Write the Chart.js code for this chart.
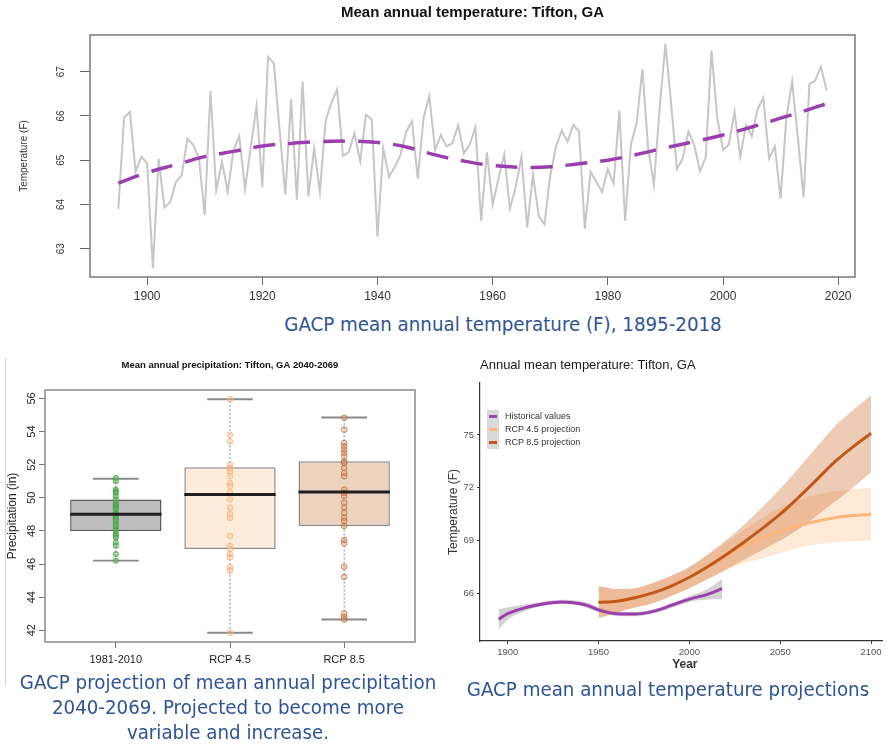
<!DOCTYPE html>
<html>
<head>
<meta charset="utf-8">
<script src="https://cdn.jsdelivr.net/npm/chart.js@4.4.1/dist/chart.umd.min.js"></script>
<style>
  body { margin: 0; background: #fff; width: 896px; height: 746px; overflow: hidden; position: relative; font-family: "Liberation Sans", Arial, sans-serif; }
  .panel { position: absolute; }
  #topPanel { left: 0; top: 0; width: 896px; height: 310px; }
  #boxPanel { left: 0; top: 350px; width: 450px; height: 320px; }
  #projPanel { left: 444px; top: 350px; width: 439px; height: 325px; overflow: hidden; }
  #edge { position: absolute; left: 5px; top: 358px; width: 0; height: 328px; border-left: 1px solid #d6d6d6; }
  .caption { position: absolute; color: #2f5496; font-family: "Liberation Sans Narrow", "DejaVu Sans Condensed", Arial, sans-serif; font-size: 20.3px; line-height: 25px; text-align: center; white-space: nowrap; }
  #cap1 { left: 253px; top: 312px; width: 500px; }
  #cap2 { left: 0; top: 670px; width: 456px; }
  #cap3 { left: 440px; top: 677px; width: 456px; }
  #projLegend { position: absolute; left: 487px; top: 410px; width: 160px; height: 39px; }
  #projLegend .keybg { position: absolute; left: 0; top: 0; width: 12px; height: 39px; background: #d9d9d9; }
  #projLegend .row { position: absolute; left: 0; height: 13px; line-height: 13px; font-size: 9px; color: #333; padding-left: 18px; white-space: nowrap; }
  #projLegend .key { position: absolute; left: 2px; top: 5px; width: 8px; height: 3px; }
</style>
</head>
<body>
<div class="panel" id="topPanel"><canvas id="tempChart" width="896" height="310"></canvas></div>
<div id="edge"></div>
<div class="panel" id="boxPanel"><canvas id="precipChart" width="450" height="320"></canvas></div>
<div class="panel" id="projPanel"><canvas id="projChart" width="454" height="325"></canvas></div>
<div id="projLegend"><div class="keybg"></div></div>
<div class="caption" id="cap1">GACP mean annual temperature (F), 1895-2018</div>
<div class="caption" id="cap2">GACP projection of mean annual precipitation<br>2040-2069. Projected to become more<br>variable and increase.</div>
<div class="caption" id="cap3">GACP mean annual temperature projections</div>

<script>
// ---- Nhiệt độ trung bình năm 1895-2018 ----
const firstYear = 1895;
const annualTemp = [
  63.90, 65.96, 66.09, 64.74, 65.08, 64.93, 62.56, 65.03, 63.93, 64.05,
  64.51, 64.66, 65.48, 65.35, 65.04, 63.76, 66.57, 64.32, 64.96, 64.29,
  65.23, 65.54, 64.35, 65.30, 66.22, 64.39, 67.34, 67.19, 65.70, 64.22,
  66.38, 64.11, 66.78, 64.18, 65.27, 64.29, 65.90, 66.30, 66.60, 65.10,
  65.18, 65.61, 64.98, 66.03, 65.92, 63.27, 65.27, 64.62, 64.85, 65.12,
  65.65, 65.88, 64.58, 65.96, 66.45, 65.23, 65.57, 65.31, 65.38, 65.79,
  65.16, 65.35, 65.74, 63.63, 65.18, 63.99, 64.58, 65.13, 63.91, 64.39,
  65.08, 63.48, 64.67, 63.74, 63.55, 64.66, 65.31, 65.67, 65.42, 65.80,
  65.65, 63.45, 64.74, 64.51, 64.28, 64.80, 64.47, 66.12, 63.63, 65.35,
  65.84, 67.06, 65.27, 64.45, 66.18, 67.63, 66.26, 64.80, 65.04, 65.65,
  65.35, 64.75, 65.06, 67.48, 65.96, 65.23, 65.35, 66.09, 65.08, 65.80,
  65.54, 66.15, 66.41, 65.04, 65.31, 64.13, 65.96, 66.78, 65.50, 64.16,
  66.72, 66.80, 67.12, 66.57
];
const annualYears = annualTemp.map((_, i) => firstYear + i);

// Đường xu hướng (nét đứt tím)
const trendYears = [1895, 1900, 1905, 1910, 1915, 1920, 1925, 1930, 1935, 1940, 1945, 1950, 1955,
  1960, 1965, 1970, 1975, 1980, 1985, 1990, 1995, 2000, 2005, 2010, 2015, 2018];
const trendTemp = [64.48, 64.72, 64.90, 65.08, 65.20, 65.32, 65.38, 65.42, 65.43, 65.40, 65.30, 65.12, 64.98,
  64.88, 64.84, 64.85, 64.92, 65.00, 65.13, 65.28, 65.42, 65.57, 65.75, 65.95, 66.15, 66.28];

const tempTicks = [63, 64, 65, 66, 67];
const yearTicks = [1900, 1920, 1940, 1960, 1980, 2000, 2020];

// ---- Lượng mưa 2040-2069 (boxplot) ----
const boxLabels = ["1981-2010", "RCP 4.5", "RCP 8.5"];
const boxLow = [46.2, 41.85, 42.65];
const boxQ1 = [48.0, 46.9, 48.3];
const boxMedian = [49.0, 50.2, 50.35];
const boxQ3 = [49.9, 51.85, 52.2];
const boxHigh = [51.15, 55.95, 54.85];
const histPrecip = [51.2, 51.0, 50.5, 50.4, 50.3, 50.1, 49.9, 49.7, 49.6, 49.5, 49.4, 49.3, 49.1, 49.0, 49.0,
  48.9, 48.8, 48.7, 48.6, 48.4, 48.3, 48.1, 48.0, 47.8, 47.7, 47.6, 47.3, 47.1, 46.6, 46.2];
const rcp45Precip = [55.95, 53.8, 53.4, 52.0, 51.8, 51.6, 51.3, 50.9, 50.7, 50.3, 49.9, 49.4, 49.0, 48.8,
  47.7, 47.1, 46.9, 46.6, 46.4, 45.8, 45.6, 41.85];
const rcp85Precip = [54.83, 54.12, 53.31, 53.11, 52.91, 52.71, 52.5, 52.2, 52.1, 51.8, 51.5, 51.3, 50.5, 50.3,
  50.1, 49.7, 49.4, 49.1, 48.8, 48.6, 48.3, 47.45, 47.25, 45.84, 45.23, 43.0, 42.8, 42.65];
const precipTicks = [42, 44, 46, 48, 50, 52, 54, 56];

// ---- Dự báo nhiệt độ (phải) ----
const histYears = [1895, 1900, 1910, 1920, 1930, 1940, 1945, 1950, 1960, 1970, 1980, 1990, 2000, 2010, 2018];
const histFit = [64.53, 64.85, 65.20, 65.42, 65.52, 65.42, 65.28, 65.07, 64.85, 64.83, 64.98, 65.32, 65.68, 65.95, 66.27];
const histLow = [63.95, 64.50, 65.02, 65.30, 65.40, 65.30, 65.12, 64.92, 64.72, 64.70, 64.85, 65.18, 65.52, 65.65, 65.70];
const histHigh = [65.10, 65.20, 65.38, 65.55, 65.64, 65.56, 65.45, 65.22, 64.98, 64.96, 65.10, 65.46, 65.84, 66.25, 66.80];

const projYears = [1950, 1960, 1970, 1980, 1990, 2000, 2010, 2020, 2030, 2040, 2050, 2060, 2070, 2080, 2090, 2100];
const rcp85Fit = [65.50, 65.56, 65.76, 66.03, 66.42, 66.92, 67.52, 68.19, 68.91, 69.68, 70.50, 71.45, 72.45, 73.47, 74.32, 75.10];
const rcp85Low = [64.60, 64.90, 65.20, 65.45, 65.85, 66.30, 66.80, 67.35, 67.90, 68.45, 69.00, 69.65, 70.40, 71.20, 72.00, 72.88];
const rcp85High = [66.42, 66.25, 66.30, 66.60, 67.00, 67.50, 68.20, 69.00, 69.90, 70.90, 71.95, 73.10, 74.30, 75.50, 76.40, 77.26];
const rcp45Fit = [65.50, 65.56, 65.76, 66.03, 66.42, 66.92, 67.50, 68.10, 68.70, 69.15, 69.55, 69.85, 70.10, 70.30, 70.42, 70.50];
const rcp45Low = [64.60, 64.90, 65.20, 65.45, 65.85, 66.30, 66.80, 67.30, 67.70, 68.00, 68.30, 68.60, 68.80, 68.90, 68.95, 69.00];
const rcp45High = [66.42, 66.25, 66.30, 66.60, 67.00, 67.50, 68.20, 68.90, 69.60, 70.30, 70.85, 71.30, 71.60, 71.80, 71.92, 72.00];

const projTempTicks = [66, 69, 72, 75];
const projYearTicks = [1900, 1950, 2000, 2050, 2100];
const legendNames = ["Historical values", "RCP 4.5 projection", "RCP 8.5 projection"];
const legendColors = ["#9c3fae", "#fdb67a", "#c2571a"];

// ghép x,y
const pts = (xs, ys) => xs.map((x, i) => ({ x: x, y: ys[i] }));

// Khung viền vùng vẽ (kiểu R)
const framePlugin = {
  id: "frame",
  afterDatasetsDraw(chart, args, opts) {
    const { ctx, chartArea: a } = chart;
    ctx.save();
    ctx.strokeStyle = opts.color || "#777";
    ctx.lineWidth = opts.width || 1.5;
    ctx.strokeRect(a.left, a.top, a.right - a.left, a.bottom - a.top);
    ctx.restore();
  },
};

const setTicks = (values) => (scale) => {
  scale.ticks = values.map((v) => ({ value: v }));
};

Chart.defaults.font.family = '"Liberation Sans", Arial, sans-serif';
Chart.defaults.animation = false;

// Biểu đồ 1: nhiệt độ trung bình năm
const initTempChart = () => {
  new Chart(document.getElementById("tempChart"), {
    type: "line",
    data: {
      datasets: [
        {
          data: pts(trendYears, trendTemp),
          borderColor: "#9b3fb0",
          borderWidth: 3.5,
          borderDash: [22, 13],
          pointRadius: 0,
          tension: 0.4,
        },
        {
          data: pts(annualYears, annualTemp),
          borderColor: "#c6c6c6",
          borderWidth: 2,
          pointRadius: 0,
          tension: 0,
        },
      ],
    },
    options: {
      responsive: false,
      layout: { padding: { left: 0, right: 41, top: 0, bottom: 0 } },
      plugins: {
        legend: { display: false },
        tooltip: { enabled: false },
        title: {
          display: true,
          fullSize: false,
          text: "Mean annual temperature: Tifton, GA",
          color: "#111",
          font: { size: 15, weight: "bold" },
          padding: { top: 4, bottom: 13 },
        },
        frame: { color: "#7a7a7a", width: 1.5 },
      },
      scales: {
        x: {
          type: "linear",
          min: 1890.08,
          max: 2022.92,
          afterBuildTicks: setTicks(yearTicks),
          afterFit: (s) => { s.height = 33; },
          border: { display: false },
          grid: { drawOnChartArea: false, tickLength: 8, color: "#666" },
          ticks: { padding: 4, color: "#333", font: { size: 12 }, maxRotation: 0, autoSkip: false, callback: (v) => String(v) },
        },
        y: {
          min: 62.36,
          max: 67.83,
          afterBuildTicks: setTicks(tempTicks),
          afterFit: (s) => { s.width = 90; },
          border: { display: false },
          grid: { drawOnChartArea: false, tickLength: 10, color: "#666" },
          ticks: { minRotation: 90, maxRotation: 90, crossAlign: "center", padding: 13, color: "#333", font: { size: 10 }, autoSkip: false },
          title: { display: true, text: "Temperature (F)", color: "#333", font: { size: 10 }, padding: { top: 18, bottom: 0 } },
        },
      },
    },
    plugins: [framePlugin],
  });
};

// Biểu đồ 2: boxplot lượng mưa
const initPrecipChart = () => {
  const boxX = boxLabels.map((_, i) => i + 1);
  const segs = (parts) => {
    const out = [];
    parts.forEach((p) => { out.push(p[0], p[1], { x: p[1].x, y: null }); });
    return out;
  };
  const medianSegs = segs(boxX.map((x, i) => [{ x: x - 0.4, y: boxMedian[i] }, { x: x + 0.4, y: boxMedian[i] }]));
  const capSegs = segs(boxX.flatMap((x, i) => [
    [{ x: x - 0.2, y: boxLow[i] }, { x: x + 0.2, y: boxLow[i] }],
    [{ x: x - 0.2, y: boxHigh[i] }, { x: x + 0.2, y: boxHigh[i] }],
  ]));
  const whiskerSegs = segs(boxX.flatMap((x, i) => [
    [{ x: x, y: boxLow[i] }, { x: x, y: boxQ1[i] }],
    [{ x: x, y: boxQ3[i] }, { x: x, y: boxHigh[i] }],
  ]));
  const dots = (x, vals) => vals.map((v) => ({ x: x, y: v }));

  new Chart(document.getElementById("precipChart"), {
    type: "bar",
    data: {
      datasets: [
        { type: "line", data: medianSegs, borderColor: "#1e1e1e", borderWidth: 3, pointRadius: 0, spanGaps: false },
        { type: "scatter", data: dots(1, histPrecip), backgroundColor: "rgba(92,184,92,0.55)", borderColor: "rgba(70,160,70,0.8)", borderWidth: 1, pointRadius: 2.6 },
        { type: "scatter", data: dots(2, rcp45Precip), backgroundColor: "rgba(253,190,140,0.35)", borderColor: "rgba(250,175,115,0.8)", borderWidth: 1, pointRadius: 2.8 },
        { type: "scatter", data: dots(3, rcp85Precip), backgroundColor: "rgba(210,130,80,0.25)", borderColor: "rgba(195,105,50,0.8)", borderWidth: 1, pointRadius: 2.8 },
        { type: "line", data: capSegs, borderColor: "#8a8a8a", borderWidth: 1.8, pointRadius: 0, spanGaps: false },
        { type: "line", data: whiskerSegs, borderColor: "#9a9a9a", borderWidth: 1.2, borderDash: [2, 2], pointRadius: 0, spanGaps: false },
        {
          type: "bar",
          data: boxX.map((x, i) => ({ x: x, y: [boxQ1[i], boxQ3[i]] })),
          backgroundColor: ["#bdbdbd", "#fdecd9", "#ecd3bf"],
          borderColor: ["#5a5a5a", "#8c8c8c", "#8c8c8c"],
          borderWidth: 1.5,
          borderSkipped: false,
          barPercentage: 1,
          categoryPercentage: 0.8,
        },
      ],
    },
    options: {
      responsive: false,
      layout: { padding: { left: 0, right: 35, top: 0, bottom: 0 } },
      plugins: {
        legend: { display: false },
        tooltip: { enabled: false },
        title: {
          display: true,
          fullSize: false,
          text: "Mean annual precipitation: Tifton, GA 2040-2069",
          color: "#111",
          font: { size: 9.5, weight: "bold" },
          padding: { top: 10, bottom: 18.6 },
        },
        frame: { color: "#8a8a8a", width: 1.5 },
      },
      scales: {
        x: {
          type: "linear",
          offset: false,
          min: 0.38,
          max: 3.62,
          afterBuildTicks: setTicks(boxX),
          afterFit: (s) => { s.height = 28; },
          border: { display: false },
          grid: { drawOnChartArea: false, tickLength: 6, color: "#777", offset: false },
          ticks: { padding: 5, color: "#222", font: { size: 11 }, maxRotation: 0, autoSkip: false, callback: (v) => boxLabels[v - 1] },
        },
        y: {
          min: 41.29,
          max: 56.51,
          afterBuildTicks: setTicks(precipTicks),
          afterFit: (s) => { s.width = 45; },
          border: { display: false },
          grid: { drawOnChartArea: false, tickLength: 6, color: "#777" },
          ticks: { minRotation: 90, maxRotation: 90, crossAlign: "center", padding: 1, color: "#222", font: { size: 11 }, autoSkip: false },
          title: { display: true, text: "Precipitation (in)", color: "#222", font: { size: 12 }, padding: { top: 5, bottom: 0 } },
        },
      },
    },
    plugins: [framePlugin],
  });
};

// Chú giải HTML (ô xám kiểu ggplot)
const renderProjLegend = () => {
  const box = document.getElementById("projLegend");
  legendNames.forEach((name, i) => {
    const row = document.createElement("div");
    row.className = "row";
    row.style.top = i * 13 + "px";
    row.innerHTML = `<span class="key" style="background:${legendColors[i]}"></span>${name}`;
    box.appendChild(row);
  });
};

// Biểu đồ 3: dự báo nhiệt độ
const initProjChart = () => {
  const line = (data, color) => ({ data: data, borderColor: color, borderWidth: 3, pointRadius: 0, cubicInterpolationMode: "monotone", fill: false });
  const band = (data, color, fill) => ({ data: data, borderColor: "transparent", borderWidth: 0, pointRadius: 0, backgroundColor: color, cubicInterpolationMode: "monotone", fill: fill });

  new Chart(document.getElementById("projChart"), {
    type: "line",
    data: {
      datasets: [
        line(pts(projYears, rcp85Fit), legendColors[2]),
        line(pts(projYears, rcp45Fit), legendColors[1]),
        line(pts(histYears, histFit), legendColors[0]),
        band(pts(projYears, rcp85High), "rgba(208,118,58,0.38)", "+1"),
        band(pts(projYears, rcp85Low), "transparent", false),
        band(pts(projYears, rcp45High), "rgba(253,185,130,0.33)", "+1"),
        band(pts(projYears, rcp45Low), "transparent", false),
        band(pts(histYears, histHigh), "rgba(150,150,150,0.42)", "+1"),
        band(pts(histYears, histLow), "transparent", false),
      ],
    },
    options: {
      responsive: false,
      layout: { padding: { left: 0, right: 8.3, top: 0, bottom: 0 } },
      plugins: {
        tooltip: { enabled: false },
        legend: { display: false },
        title: {
          display: true,
          fullSize: false,
          align: "start",
          text: "Annual mean temperature: Tifton, GA",
          color: "#1a1a1a",
          font: { size: 13, weight: "normal" },
          padding: { top: 8, bottom: 9.4 },
        },
      },
      scales: {
        x: {
          type: "linear",
          min: 1884.75,
          max: 2110.25,
          afterBuildTicks: setTicks(projYearTicks),
          afterFit: (s) => { s.height = 34; },
          border: { display: true, color: "#333", width: 1.2 },
          grid: { drawOnChartArea: false, tickLength: 3, color: "#333" },
          ticks: { padding: 3, color: "#555", font: { size: 9.5 }, maxRotation: 0, autoSkip: false, callback: (v) => String(v) },
          title: { display: true, text: "Year", color: "#333", font: { size: 12, weight: "bold" }, padding: { top: 0, bottom: 2.8 } },
        },
        y: {
          min: 63.3,
          max: 77.95,
          afterBuildTicks: setTicks(projTempTicks),
          afterFit: (s) => { s.width = 36; },
          border: { display: true, color: "#333", width: 1.2 },
          grid: { drawOnChartArea: false, tickLength: 3, color: "#333" },
          ticks: { padding: 3, color: "#555", font: { size: 9.5 }, autoSkip: false },
          title: { display: true, text: "Temperature (F)", color: "#333", font: { size: 12 }, padding: { top: 2.8, bottom: 0 } },
        },
      },
    },
  });
};

initTempChart();
initPrecipChart();
renderProjLegend();
initProjChart();
</script>
</body>
</html>
